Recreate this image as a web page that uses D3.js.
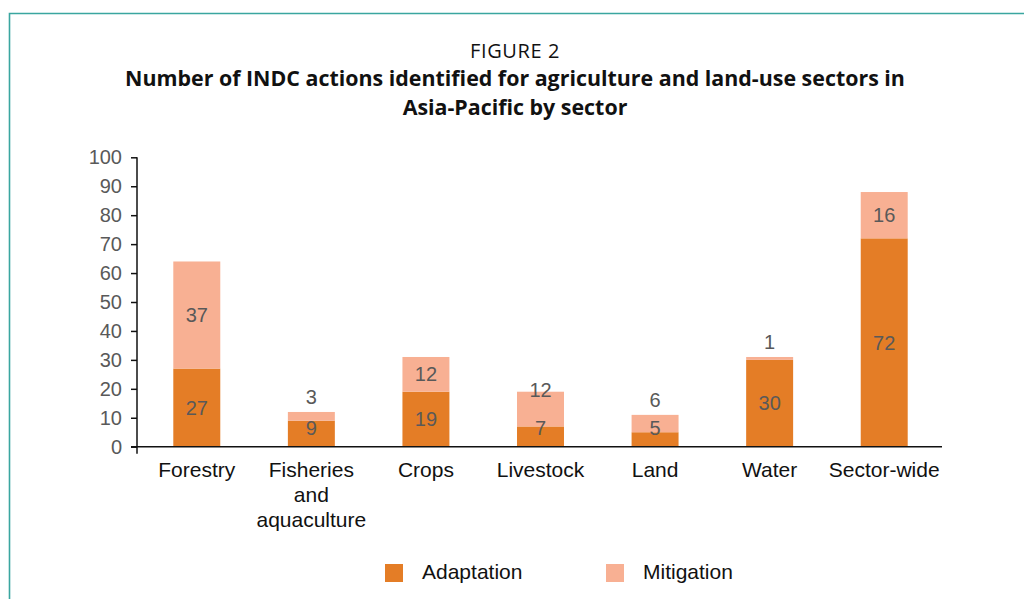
<!DOCTYPE html>
<meta charset="utf-8">
<style>
body { margin: 0; background: #fff; }
svg { display: block; }
.tick text { fill: #595959; font: 20px "Liberation Sans", Arial, sans-serif; }
.cat { fill: #111; font: 21px "Liberation Sans", Arial, sans-serif; }
.val { fill: #595959; font: 20px "Liberation Sans", Arial, sans-serif; }
.legend text { fill: #111; font: 21px "Liberation Sans", Arial, sans-serif; }
</style>
<body>
<script src="https://d3js.org/d3.v7.min.js"></script>
<script>
// chart data
var sectors = ["Forestry", "Fisheries and aquaculture", "Crops", "Livestock", "Land", "Water", "Sector-wide"];
var sectorLines = [["Forestry"], ["Fisheries", "and", "aquaculture"], ["Crops"], ["Livestock"], ["Land"], ["Water"], ["Sector-wide"]];
var adaptation = [27, 9, 19, 7, 5, 30, 72];
var mitigation = [37, 3, 12, 12, 6, 1, 16];
var seriesNames = ["Adaptation", "Mitigation"];
var yTicks = [0, 10, 20, 30, 40, 50, 60, 70, 80, 90, 100];

var colors = ["#e47d26", "#f8b093"];

var W = 1024, H = 599;

var svg = d3.select("body").append("svg")
    .attr("width", W)
    .attr("height", H);

// frame
svg.append("path")
    .attr("d", "M9.5,599 V13.5 H1024")
    .attr("fill", "none")
    .attr("stroke", "#3aa6a0")
    .attr("stroke-width", 1.6);

// titles
svg.append("text")
    .attr("x", 515).attr("y", 58)
    .attr("text-anchor", "middle")
    .style("font", "20px 'Open Sans', sans-serif")
    .style("letter-spacing", "0.6px")
    .style("fill", "#111")
    .text("FIGURE 2");

var titleLines = ["Number of INDC actions identified for agriculture and land-use sectors in", "Asia-Pacific by sector"];
svg.selectAll(".title")
    .data(titleLines)
  .enter().append("text")
    .attr("class", "title")
    .attr("x", 515)
    .attr("y", function(d, i) { return 86 + i * 29; })
    .attr("text-anchor", "middle")
    .style("font", "bold 21.4px 'Open Sans', sans-serif")
    .style("fill", "#111")
    .text(function(d) { return d; });

var x = d3.scaleBand()
    .domain(sectors)
    .range([139.5, 941.5])
    .paddingInner(0.59)
    .paddingOuter(0.295);

var y = d3.scaleLinear()
    .domain([0, 100])
    .range([446.7, 157.3]);

// y axis
var yAxis = d3.axisLeft(y)
    .tickValues(yTicks)
    .tickSize(6)
    .tickPadding(9);

var gy = svg.append("g")
    .attr("transform", "translate(137,0)")
    .call(yAxis);
gy.select(".domain").remove();
gy.selectAll(".tick line").attr("stroke", "#111").attr("stroke-width", 1.5);

// bars
var stackData = sectors.map(function(s, i) {
  return { sector: s, Adaptation: adaptation[i], Mitigation: mitigation[i] };
});
var stacked = d3.stack().keys(seriesNames)(stackData);

svg.selectAll(".layer")
    .data(stacked)
  .enter().append("g")
    .attr("class", "layer")
    .attr("fill", function(d, i) { return colors[i]; })
  .selectAll("rect")
    .data(function(d) { return d; })
  .enter().append("rect")
    .attr("x", function(d) { return x(d.data.sector); })
    .attr("width", x.bandwidth())
    .attr("y", function(d) { return y(d[1]); })
    .attr("height", function(d) { return y(d[0]) - y(d[1]); });

// value labels (drawn after all bars)
function adaptLabelY(d) {
  return Math.min((y(d[0]) + y(d[1])) / 2, y(0) - 19);
}
var labels = svg.append("g");
stacked.forEach(function(layer, li) {
  labels.selectAll(".val-" + li)
      .data(layer)
    .enter().append("text")
      .attr("class", "val val-" + li)
      .attr("text-anchor", "middle")
      .attr("dy", "0.35em")
      .attr("x", function(d) { return x(d.data.sector) + x.bandwidth() / 2; })
      .attr("y", function(d, i) {
        if (li === 0) return adaptLabelY(d);
        var top = y(d[1]), bot = y(d[0]);
        if (bot - top < 20) return top - 15;
        return Math.min((top + bot) / 2, adaptLabelY(stacked[0][i]) - 38);
      })
      .text(function(d) { return d[1] - d[0]; });
});

// axis lines
svg.append("line")
    .attr("x1", 131).attr("x2", 942)
    .attr("y1", y(0)).attr("y2", y(0))
    .attr("stroke", "#111").attr("stroke-width", 1.5);
svg.append("line")
    .attr("x1", 137).attr("x2", 137)
    .attr("y1", y(100)).attr("y2", y(0) + 7)
    .attr("stroke", "#111").attr("stroke-width", 1.5);

// category labels
svg.selectAll(".cat")
    .data(sectors)
  .enter().append("text")
    .attr("class", "cat")
    .attr("text-anchor", "middle")
    .attr("y", 477)
  .selectAll("tspan")
    .data(function(d, i) { return sectorLines[i].map(function(t) { return { sector: d, text: t }; }); })
  .enter().append("tspan")
    .attr("x", function(d) { return x(d.sector) + x.bandwidth() / 2; })
    .attr("dy", function(d, i) { return i === 0 ? 0 : 25; })
    .text(function(d) { return d.text; });

// legend
var legend = svg.selectAll(".legend")
    .data(seriesNames)
  .enter().append("g")
    .attr("class", "legend")
    .attr("transform", function(d, i) { return "translate(" + (385 + i * 221) + ",564)"; });

legend.append("rect")
    .attr("width", 18)
    .attr("height", 18)
    .attr("fill", function(d, i) { return colors[i]; });

legend.append("text")
    .attr("x", 37)
    .attr("y", 15)
    .text(function(d) { return d; });
</script>
